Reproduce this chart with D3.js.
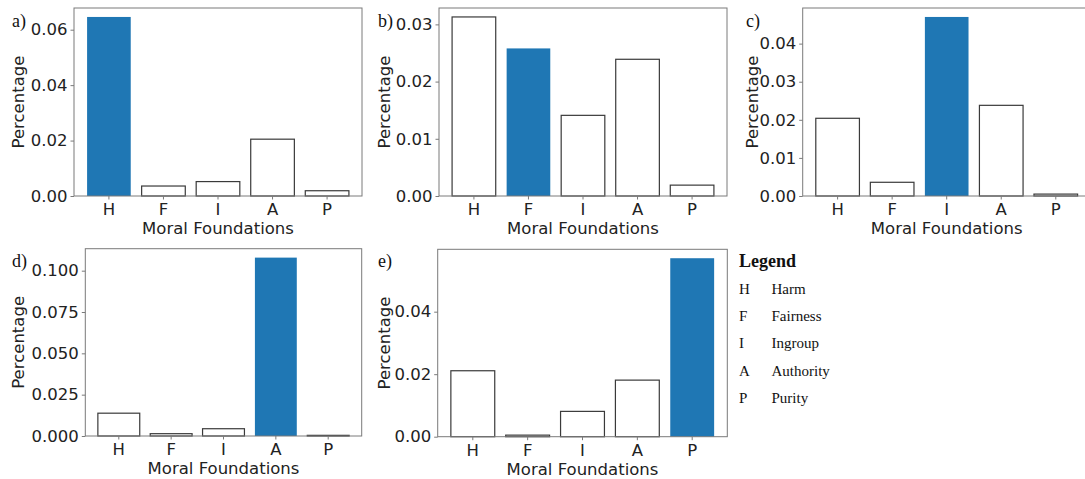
<!DOCTYPE html>
<html>
<head>
<meta charset="utf-8">
<script src="https://cdn.jsdelivr.net/npm/d3@7"></script>
<style>
  html, body { margin: 0; padding: 0; background: #fff; }
  svg { display: block; }
</style>
</head>
<body>
<svg id="chart" width="1085" height="479"></svg>
<script>
/* ───────────── DATA ───────────── */
const categories  = ["H", "F", "I", "A", "P"];
const legendNames = ["Harm", "Fairness", "Ingroup", "Authority", "Purity"];
const panelLabels = ["a)", "b)", "c)", "d)", "e)"];

const valuesA = [0.0646, 0.0036, 0.0052, 0.0205, 0.0019];
const valuesB = [0.0313, 0.0258, 0.0141, 0.0239, 0.0019];
const valuesC = [0.0204, 0.0036, 0.0470, 0.0238, 0.0005];
const valuesD = [0.0138, 0.0014, 0.0044, 0.1079, 0.0004];
const valuesE = [0.0211, 0.0005, 0.0081, 0.0181, 0.0571];

const yTicksA = [0, 0.02, 0.04, 0.06];
const yTicksB = [0, 0.01, 0.02, 0.03];
const yTicksC = [0, 0.01, 0.02, 0.03, 0.04];
const yTicksD = [0, 0.025, 0.05, 0.075, 0.1];
const yTicksE = [0, 0.02, 0.04];

/* ───────────── LAYOUT ───────────── */
const panels = [
  { values: valuesA, ticks: yTicksA, fmt: ".2f", box: { x: 74,    y: 8,     w: 288,   h: 188 } },
  { values: valuesB, ticks: yTicksB, fmt: ".2f", box: { x: 439,   y: 8,     w: 288,   h: 188 } },
  { values: valuesC, ticks: yTicksC, fmt: ".2f", box: { x: 802.7, y: 8,     w: 288,   h: 188 } },
  { values: valuesD, ticks: yTicksD, fmt: ".3f", box: { x: 85.3,  y: 248.7, w: 276.4, h: 187.3 } },
  { values: valuesE, ticks: yTicksE, fmt: ".2f", box: { x: 437.7, y: 249.3, w: 289.6, h: 187.4 } }
];
const labelPos = [[12, 26.5], [378, 26.5], [746, 26.5], [12, 266.5], [378, 266.5]];

const BLUE = "#1f77b4";
const SANS = "DejaVu Sans";
const SERIF = "Liberation Serif";

const svg = d3.select("#chart");

panels.forEach((p, k) => {
  const b = p.box;
  const g = svg.append("g").attr("transform", `translate(${b.x},${b.y})`);

  const x = d3.scaleBand()
    .domain(categories)
    .range([0, b.w])
    .paddingInner(0.2)
    .paddingOuter(0.24);

  const y = d3.scaleLinear()
    .domain([0, d3.max(p.values) * 1.05])
    .range([b.h, 0]);

  // bars
  g.selectAll("rect.bar")
    .data(p.values)
    .join("rect")
    .attr("class", "bar")
    .attr("x", (d, i) => x(categories[i]))
    .attr("width", x.bandwidth())
    .attr("y", d => y(d))
    .attr("height", d => b.h - y(d))
    .attr("fill", (d, i) => i === k ? BLUE : "#fff")
    .attr("stroke", (d, i) => i === k ? "none" : "#3a3a3a")
    .attr("stroke-width", 1.2);

  // spines
  g.append("rect")
    .attr("x", 0).attr("y", 0)
    .attr("width", b.w).attr("height", b.h)
    .attr("fill", "none")
    .attr("stroke", "#7a7a7a")
    .attr("stroke-width", 1);

  // axes
  const yAxis = g.append("g")
    .call(d3.axisLeft(y).tickValues(p.ticks).tickFormat(d3.format(p.fmt)).tickSize(3.5).tickPadding(3));
  const xAxis = g.append("g")
    .attr("transform", `translate(0,${b.h})`)
    .call(d3.axisBottom(x).tickSize(3.5).tickPadding(4));

  [yAxis, xAxis].forEach(ax => {
    ax.select(".domain").remove();
    ax.selectAll(".tick line").attr("stroke", "#7a7a7a");
    ax.selectAll(".tick text")
      .attr("fill", "#222")
      .style("font-family", SANS)
      .style("font-size", "16.5px");
  });

  // axis titles
  g.append("text")
    .attr("x", b.w / 2)
    .attr("y", b.h + 38)
    .attr("text-anchor", "middle")
    .attr("fill", "#222")
    .style("font-family", SANS)
    .style("font-size", "16.5px")
    .text("Moral Foundations");

  g.append("text")
    .attr("transform", `translate(${labelPos[k][0] + 11.5 - b.x},${b.h / 2}) rotate(-90)`)
    .attr("text-anchor", "middle")
    .attr("fill", "#222")
    .style("font-family", SANS)
    .style("font-size", "16.5px")
    .text("Percentage");

  // panel label
  svg.append("text")
    .attr("x", labelPos[k][0])
    .attr("y", labelPos[k][1])
    .attr("fill", "#111")
    .style("font-family", SERIF)
    .style("font-size", "18px")
    .text(panelLabels[k]);
});

/* ───────────── LEGEND ───────────── */
const lg = svg.append("g").attr("transform", "translate(739,266.5)");
lg.append("text")
  .attr("x", 0).attr("y", 0)
  .attr("fill", "#111")
  .style("font-family", SERIF)
  .style("font-size", "18px")
  .style("font-weight", "bold")
  .text("Legend");

const rows = lg.selectAll("g.row")
  .data(categories)
  .join("g")
  .attr("class", "row")
  .attr("transform", (d, i) => `translate(0,${27.3 + i * 27.3})`);
rows.append("text")
  .attr("fill", "#111")
  .style("font-family", SERIF)
  .style("font-size", "15px")
  .text(d => d);
rows.append("text")
  .attr("x", 32.5)
  .attr("fill", "#111")
  .style("font-family", SERIF)
  .style("font-size", "15px")
  .text((d, i) => legendNames[i]);
</script>
</body>
</html>
